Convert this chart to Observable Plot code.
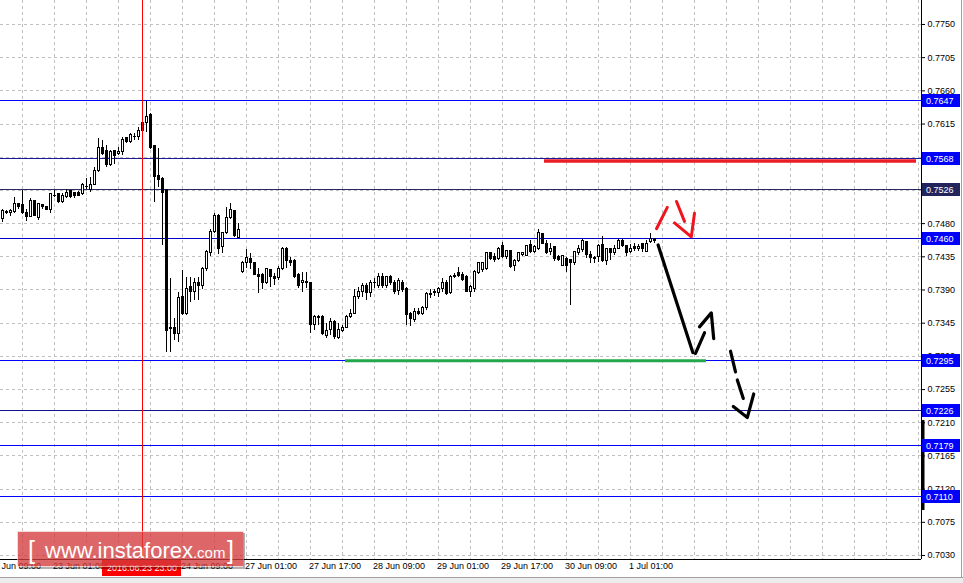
<!DOCTYPE html>
<html><head><meta charset="utf-8">
<script src="https://cdn.jsdelivr.net/npm/d3@7"></script>
<script src="https://cdn.jsdelivr.net/npm/@observablehq/plot@0.6"></script>
<style>
html,body{margin:0;padding:0;background:#fff;}
#wrap{position:relative;width:963px;height:583px;overflow:hidden;}
#wm{position:absolute;left:17px;top:531px;width:229px;height:39px;}
</style>
</head><body>
<div id="wrap"><div id="chart"></div>
<svg id="wm" width="229" height="39" viewBox="0 0 229 39">
  <rect x="0.5" y="0.5" width="226" height="35" fill="rgba(212,60,62,0.78)" stroke="rgba(255,255,255,0.5)"/>
  <path d="M227,2 V37 H2" fill="none" stroke="rgba(0,0,0,0.3)" stroke-width="2"/>
  <text x="11" y="28" font-family="Liberation Sans, Arial, sans-serif" font-size="25" fill="#fff">[</text>
  <text x="28" y="27" font-family="Liberation Sans, Arial, sans-serif" font-size="22" fill="#fff">www.instaforex<tspan font-size="15">.com</tspan></text>
  <text x="210" y="28" font-family="Liberation Sans, Arial, sans-serif" font-size="25" fill="#fff">]</text>
</svg>
</div>
<script>
// ---- candle data (H1 bars, index 0 = 22 Jun 12:00) ----
const open = [0.7486,0.7495,0.7494,0.7496,0.7506,0.7505,0.7495,0.7489,0.7510,0.7487,
0.7505,0.7502,0.7498,0.7518,0.7520,0.7509,0.7516,0.7524,0.7521,0.7521,
0.7520,0.7530,0.7525,0.7533,0.7552,0.7582,0.7579,0.7559,0.7578,0.7574,
0.7577,0.7596,0.7591,0.7597,0.7597,0.7606,0.7616,0.7627,0.7585,0.7544,
0.7541,0.7525,0.7337,0.7338,0.7330,0.7380,0.7358,0.7394,0.7387,0.7400,
0.7396,0.7419,0.7440,0.7468,0.7491,0.7448,0.7467,0.7487,0.7497,0.7461,
0.7414,0.7426,0.7432,0.7426,0.7411,0.7410,0.7399,0.7417,0.7407,0.7406,
0.7418,0.7445,0.7429,0.7429,0.7410,0.7399,0.7400,0.7399,0.7343,0.7353,
0.7354,0.7328,0.7336,0.7347,0.7325,0.7335,0.7339,0.7354,0.7358,0.7380,
0.7387,0.7396,0.7386,0.7399,0.7396,0.7407,0.7395,0.7407,0.7400,0.7388,
0.7400,0.7391,0.7358,0.7349,0.7360,0.7358,0.7365,0.7383,0.7387,0.7386,
0.7392,0.7400,0.7386,0.7407,0.7413,0.7411,0.7407,0.7387,0.7392,0.7413,
0.7417,0.7418,0.7440,0.7435,0.7432,0.7449,0.7435,0.7443,0.7423,0.7429,
0.7437,0.7436,0.7451,0.7441,0.7445,0.7466,0.7453,0.7441,0.7448,0.7435,
0.7423,0.7432,0.7430,0.7426,0.7440,0.7444,0.7455,0.7437,0.7433,0.7435,
0.7451,0.7429,0.7445,0.7440,0.7446,0.7457,0.7449,0.7441,0.7448,0.7445,
0.7452,0.7442,0.7455,0.7459];
const high = [0.7499,0.7498,0.7499,0.7516,0.7507,0.7525,0.7499,0.7514,0.7512,0.7507,
0.7506,0.7503,0.7521,0.7525,0.7521,0.7521,0.7526,0.7525,0.7522,0.7524,
0.7535,0.7541,0.7543,0.7556,0.7596,0.7593,0.7586,0.7579,0.7579,0.7583,
0.7597,0.7597,0.7602,0.7602,0.7610,0.7620,0.7646,0.7629,0.7586,0.7582,
0.7543,0.7526,0.7406,0.7352,0.7386,0.7417,0.7407,0.7407,0.7406,0.7407,
0.7421,0.7444,0.7472,0.7494,0.7493,0.7468,0.7502,0.7507,0.7498,0.7480,
0.7429,0.7445,0.7440,0.7427,0.7419,0.7413,0.7419,0.7418,0.7413,0.7422,
0.7448,0.7448,0.7434,0.7432,0.7413,0.7414,0.7414,0.7400,0.7356,0.7356,
0.7356,0.7345,0.7352,0.7349,0.7345,0.7342,0.7356,0.7364,0.7390,0.7394,
0.7399,0.7399,0.7403,0.7406,0.7413,0.7413,0.7408,0.7410,0.7403,0.7406,
0.7403,0.7394,0.7360,0.7365,0.7365,0.7368,0.7387,0.7390,0.7391,0.7394,
0.7406,0.7403,0.7410,0.7413,0.7421,0.7414,0.7410,0.7396,0.7417,0.7427,
0.7427,0.7441,0.7441,0.7440,0.7448,0.7455,0.7444,0.7444,0.7432,0.7441,
0.7441,0.7451,0.7457,0.7451,0.7472,0.7467,0.7457,0.7453,0.7449,0.7437,
0.7437,0.7434,0.7432,0.7442,0.7451,0.7459,0.7456,0.7442,0.7436,0.7452,
0.7463,0.7446,0.7446,0.7451,0.7459,0.7459,0.7451,0.7452,0.7453,0.7452,
0.7453,0.7457,0.7467,0.7460];
const low = [0.7482,0.7493,0.7490,0.7494,0.7499,0.7493,0.7483,0.7488,0.7489,0.7484,
0.7499,0.7498,0.7494,0.7516,0.7507,0.7507,0.7514,0.7514,0.7514,0.7517,
0.7518,0.7526,0.7522,0.7532,0.7549,0.7573,0.7556,0.7557,0.7560,0.7573,
0.7573,0.7589,0.7589,0.7593,0.7593,0.7605,0.7604,0.7581,0.7509,0.7529,
0.7451,0.7305,0.7305,0.7322,0.7319,0.7356,0.7356,0.7373,0.7376,0.7376,
0.7390,0.7415,0.7435,0.7467,0.7438,0.7440,0.7465,0.7486,0.7461,0.7460,
0.7413,0.7419,0.7418,0.7409,0.7385,0.7390,0.7398,0.7394,0.7396,0.7403,
0.7417,0.7419,0.7422,0.7406,0.7392,0.7387,0.7392,0.7331,0.7335,0.7342,
0.7328,0.7324,0.7328,0.7323,0.7323,0.7333,0.7338,0.7352,0.7358,0.7377,
0.7380,0.7376,0.7380,0.7392,0.7392,0.7392,0.7392,0.7396,0.7384,0.7383,
0.7387,0.7342,0.7341,0.7346,0.7356,0.7356,0.7362,0.7379,0.7381,0.7380,
0.7387,0.7383,0.7384,0.7406,0.7407,0.7402,0.7386,0.7380,0.7387,0.7411,
0.7414,0.7417,0.7430,0.7427,0.7430,0.7433,0.7432,0.7419,0.7415,0.7427,
0.7435,0.7435,0.7440,0.7440,0.7444,0.7452,0.7438,0.7437,0.7429,0.7429,
0.7422,0.7414,0.7369,0.7423,0.7437,0.7441,0.7433,0.7426,0.7426,0.7427,
0.7427,0.7423,0.7430,0.7437,0.7445,0.7448,0.7436,0.7440,0.7442,0.7442,
0.7441,0.7441,0.7453,0.7453];
const close = [0.7497,0.7496,0.7497,0.7507,0.7502,0.7494,0.7489,0.7510,0.7490,0.7506,
0.7502,0.7499,0.7520,0.7517,0.7509,0.7518,0.7522,0.7516,0.7517,0.7518,
0.7532,0.7529,0.7533,0.7552,0.7583,0.7575,0.7559,0.7577,0.7571,0.7577,
0.7594,0.7590,0.7600,0.7598,0.7606,0.7617,0.7624,0.7582,0.7543,0.7539,
0.7522,0.7335,0.7338,0.7330,0.7379,0.7358,0.7392,0.7387,0.7400,0.7396,
0.7419,0.7441,0.7468,0.7491,0.7446,0.7467,0.7488,0.7498,0.7463,0.7472,
0.7427,0.7433,0.7426,0.7411,0.7407,0.7399,0.7418,0.7407,0.7405,0.7418,
0.7445,0.7429,0.7427,0.7407,0.7396,0.7402,0.7401,0.7342,0.7353,0.7352,
0.7331,0.7335,0.7347,0.7326,0.7336,0.7339,0.7354,0.7358,0.7381,0.7387,
0.7396,0.7386,0.7399,0.7400,0.7407,0.7396,0.7407,0.7399,0.7387,0.7402,
0.7390,0.7356,0.7350,0.7360,0.7358,0.7365,0.7385,0.7384,0.7386,0.7392,
0.7400,0.7384,0.7407,0.7409,0.7409,0.7403,0.7387,0.7394,0.7414,0.7426,
0.7426,0.7440,0.7432,0.7430,0.7446,0.7435,0.7443,0.7421,0.7429,0.7440,
0.7440,0.7449,0.7441,0.7448,0.7467,0.7453,0.7440,0.7446,0.7432,0.7430,
0.7436,0.7423,0.7426,0.7441,0.7446,0.7456,0.7437,0.7433,0.7432,0.7449,
0.7429,0.7445,0.7440,0.7445,0.7456,0.7449,0.7440,0.7446,0.7445,0.7448,
0.7445,0.7453,0.7459,0.7456];

// ---- axes ----
const yTicks = [0.7030,0.7075,0.7120,0.7165,0.7210,0.7255,0.7300,0.7345,0.7390,0.7435,0.7480,0.7525,0.7570,0.7615,0.7660,0.7705,0.7750];
const xGrid = [5,13,21,29,37,45,53,61,69,77,85,93,101,109,117,125,133,141,149,157,165,173,181,189,197,205,213,221,229];
const xTickIdx = [-3,13,29,45,61,77,93,109,125,141,157];
const xTickLabels = ["22 Jun 09:00","23 Jun 01:00","23 Jun 17:00","24 Jun 09:00","27 Jun 01:00","27 Jun 17:00","28 Jun 09:00","29 Jun 01:00","29 Jun 17:00","30 Jun 09:00","1 Jul 01:00"];
const xDomain = [-0.5, 229.75];
const yDomain = [0.70246, 0.77825];

// ---- horizontal levels ----
const levels = [0.7647,0.7568,0.7526,0.7460,0.7295,0.7226,0.7179,0.7110];
const levelColors = ["#0000ff","#1a1a9a","#2a2a60","#0000c8","#0000ff","#14148c","#0000ff","#0000ff"];
const boxColors = ["#0000ff","#0000ff","#24245c","#0000ff","#0000ff","#0000ff","#0000ff","#0000ff"];
const resistance = {level: 0.7565, from: 135.5, to: 228.5};
const support = {level: 0.7294, from: 85.75, to: 176};
const markerIdx = 35;
const markerLabel = "2016.06.23 23:00";
const axisBar = [0.7213, 0.7091];

// ---- hand-drawn arrows (bar index, price) ----
const redArrowSeg = ["r1","r1","r2","r2","r3","r3","r3"];
const redArrowIdx = [163.5,166.2,168.5,170.5,168.0,172.2,173.0];
const redArrowPrice = [0.7473,0.7502,0.7510,0.7483,0.7481,0.7462,0.7494];
const blackArrowSeg = ["b1","b1","b2","b2","b3","b3","b3"];
const blackArrowIdx = [163.9,172.6,173.25,175.5,174.25,177.2,177.8];
const blackArrowPrice = [0.7451,0.7305,0.7304,0.7332,0.7340,0.7359,0.7324];
const dashArrowSeg = ["d1","d1","d2","d2","d3","d3","d3"];
const dashArrowIdx = [182.0,183.25,183.7,185.2,182.7,186.2,187.8];
const dashArrowPrice = [0.7307,0.7279,0.7268,0.7243,0.7232,0.7217,0.7249];

const candles = open.map((o, k) => ({i: k, open: o, high: high[k], low: low[k], close: close[k]}));
const bulls = candles.filter(d => d.close >= d.open);
const bears = candles.filter(d => d.close < d.open);
const levelData = levels.map((v, k) => ({v, c: levelColors[k]}));
const mkPts = (seg, idx, pr) => seg.map((s, k) => ({s, x: idx[k], y: pr[k]}));
const redPts = mkPts(redArrowSeg, redArrowIdx, redArrowPrice);
const blackPts = mkPts(blackArrowSeg, blackArrowIdx, blackArrowPrice);
const dashPts = mkPts(dashArrowSeg, dashArrowIdx, dashArrowPrice);

const plot = Plot.plot({
  width: 963, height: 583,
  marginLeft: 0, marginRight: 42, marginTop: 0, marginBottom: 24,
  style: {background: "white", fontFamily: "'Liberation Sans', Arial, sans-serif", fontSize: "9px", color: "black", overflow: "visible"},
  x: {domain: xDomain, axis: null},
  y: {domain: yDomain, axis: "right", ticks: yTicks, tickFormat: d => d.toFixed(4), tickSize: 3, tickPadding: 3, label: null},
  color: {type: "identity"},
  marks: [
    Plot.ruleY(yTicks, {stroke: "#c0c0c0", strokeDasharray: "3,3", shapeRendering: "crispEdges"}),
    Plot.ruleX(xGrid, {stroke: "#c0c0c0", strokeDasharray: "3,3", shapeRendering: "crispEdges"}),
    Plot.ruleY(levelData, {y: "v", stroke: "c", strokeWidth: 1, shapeRendering: "crispEdges"}),
    Plot.ruleY([resistance], {y: "level", x1: "from", x2: "to", stroke: "#ec1c24", strokeWidth: 3.5}),
    Plot.ruleY([support], {y: "level", x1: "from", x2: "to", stroke: "#22a84a", strokeWidth: 3}),
    Plot.ruleX(candles, {x: "i", y1: "low", y2: "high", stroke: "black", strokeWidth: 1, shapeRendering: "crispEdges"}),
    Plot.rect(bulls, {x1: d => d.i - 0.25, x2: d => d.i + 0.25, y1: "open", y2: "close", fill: "white", stroke: "black", strokeWidth: 1, shapeRendering: "crispEdges"}),
    Plot.rect(bears, {x1: d => d.i - 0.25, x2: d => d.i + 0.25, y1: "open", y2: "close", fill: "black", stroke: "black", strokeWidth: 1, shapeRendering: "crispEdges"}),
    Plot.ruleX([markerIdx], {stroke: "#ff0000", strokeWidth: 1, shapeRendering: "crispEdges"}),
    Plot.line(redPts, {x: "x", y: "y", z: "s", stroke: "#f0141e", strokeWidth: 3, strokeLinecap: "round", strokeLinejoin: "round"}),
    Plot.line(blackPts, {x: "x", y: "y", z: "s", stroke: "black", strokeWidth: 3.2, strokeLinecap: "round", strokeLinejoin: "round"}),
    Plot.line(dashPts, {x: "x", y: "y", z: "s", stroke: "black", strokeWidth: 3.2, strokeLinecap: "round", strokeLinejoin: "round"}),
    Plot.text(xTickIdx, {x: d => d, text: (d, k) => xTickLabels[k], frameAnchor: "bottom", textAnchor: "start", dy: 9, dx: -1.5, fontSize: 9, fill: "black"}),
    Plot.ruleX([xDomain[1]], {stroke: "black", shapeRendering: "crispEdges"}),
    Plot.ruleY([yDomain[0]], {stroke: "black", shapeRendering: "crispEdges"}),
    Plot.ruleX([xDomain[1]], {y1: axisBar[0], y2: axisBar[1], stroke: "black", strokeWidth: 3, dx: 1.5})
  ]
});
document.getElementById("chart").appendChild(plot);

const svg = d3.select(plot);
const sy = plot.scale("y"), sx = plot.scale("x");
const g = svg.append("g").attr("text-anchor", "start").attr("font-family", "'Liberation Sans', Arial, sans-serif");
levels.forEach((v, k) => {
  const y = Math.round(sy.apply(v));
  g.append("rect").attr("x", 922).attr("y", y - 6).attr("width", 38).attr("height", 13).style("fill", boxColors[k]);
  g.append("text").attr("x", 926).attr("y", y + 3.5).attr("text-anchor", "start").attr("font-size", 9).style("fill", "white").text(v.toFixed(4));
});
const rx = Math.round(sx.apply(markerIdx));
g.append("rect").attr("x", rx - 40).attr("y", 560).attr("width", 79).attr("height", 16).style("fill", "#ff0000");
g.append("text").attr("x", rx).attr("y", 571).attr("text-anchor", "middle").attr("font-size", 9).style("fill", "white").text(markerLabel);
g.append("rect").attr("x", 0).attr("y", 578).attr("width", 963).attr("height", 5).style("fill", "#ececec");
g.append("line").attr("x1", 0).attr("x2", 963).attr("y1", 577.5).attr("y2", 577.5).style("stroke", "#a0a0a0");
g.append("line").attr("x1", 961.5).attr("x2", 961.5).attr("y1", 0).attr("y2", 578).style("stroke", "#a0a0a0");
</script>
</body></html>
